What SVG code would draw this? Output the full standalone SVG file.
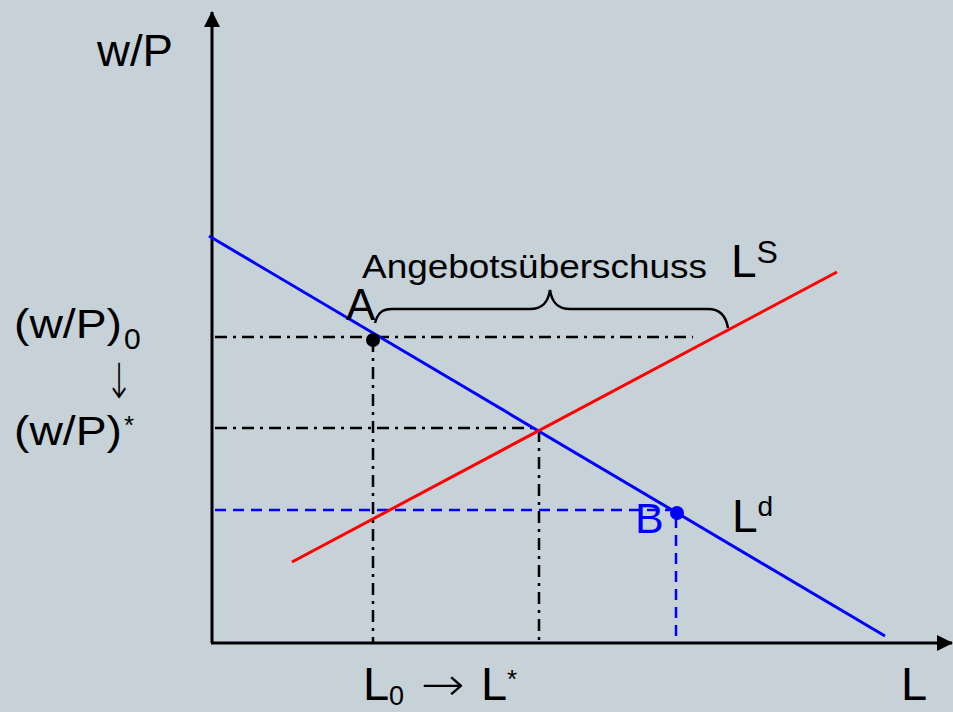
<svg xmlns="http://www.w3.org/2000/svg" width="953" height="712" viewBox="0 0 953 712">
<defs>
<style>
text{font-family:"Liberation Sans","Arial","DejaVu Sans",sans-serif;fill:#000}
.arr{font-family:"DejaVu Sans",sans-serif;font-weight:200}
.ax{stroke:#000;stroke-width:3;fill:none}
.dd{stroke:#000;stroke-width:2.5;fill:none;stroke-dasharray:12 6 3 6}
.bd{stroke:#0000ff;stroke-width:2.5;fill:none;stroke-dasharray:11 7}
.blue{fill:#0000ff}
</style>
<marker id="ah" markerWidth="16" markerHeight="16" viewBox="0 0 16 16" refX="15" refY="8" orient="auto" markerUnits="userSpaceOnUse">
<path d="M0,0 L16,8 L0,16 z" fill="#000"/>
</marker>
</defs>
<rect width="953" height="712" fill="#C6D1D8"/>
<g id="axes">
<line class="ax" x1="212" y1="643" x2="212" y2="12" marker-end="url(#ah)"/>
<line class="ax" x1="211" y1="643" x2="952" y2="643" marker-end="url(#ah)"/>
</g>
<g id="connectors">
<line class="dd" x1="215" y1="337" x2="693" y2="337"/>
<line class="dd" x1="373" y1="340" x2="373" y2="643"/>
<line class="dd" x1="215" y1="428" x2="539" y2="428"/>
<line class="dd" x1="539" y1="430" x2="539" y2="643"/>
<line class="bd" x1="215" y1="510" x2="670" y2="510"/>
<line class="bd" x1="676" y1="517" x2="676" y2="643"/>
<path d="M375,323 C378,312 383,309 392,309 L530,309 C542,309 548,303 550,290 C552,303 558,309 570,309 L708,309 C720,309 726,316 728,328" fill="none" stroke="#000" stroke-width="2.5"/>
</g>
<g id="Ld">
<line x1="209" y1="236" x2="885" y2="636" stroke="#0000ff" stroke-width="3"/>
<text x="732" y="532" font-size="46">L<tspan font-size="28" dy="-16">d</tspan></text>
</g>
<g id="Ls">
<line x1="292" y1="562" x2="837" y2="272" stroke="#ff0000" stroke-width="3"/>
<text x="731" y="277" font-size="46">L<tspan font-size="32" dy="-14">S</tspan></text>
</g>
<g id="A">
<circle cx="373" cy="340" r="7" fill="#000"/>
<text x="346" y="320" font-size="44">A</text>
</g>
<g id="B">
<circle cx="677" cy="513" r="7" fill="#0000ff"/>
<text class="blue" x="635" y="533" font-size="43">B</text>
</g>
<g id="labels">
<text x="97" y="66" font-size="44" textLength="76" lengthAdjust="spacingAndGlyphs">w/P</text>
<text x="362" y="278" font-size="33" textLength="345" lengthAdjust="spacingAndGlyphs">Angebotsüberschuss</text>
<text x="14" y="338" font-size="40" textLength="108" lengthAdjust="spacingAndGlyphs">(w/P)</text>
<text x="124" y="349" font-size="30">0</text>
<text class="arr" x="119" y="398" font-size="42" text-anchor="middle" transform="translate(119 398) scale(0.8 1.15) translate(-119 -398)">↓</text>
<text x="14" y="445" font-size="40" textLength="108" lengthAdjust="spacingAndGlyphs">(w/P)</text>
<text x="124" y="434" font-size="26">*</text>
<text x="363" y="700" font-size="47">L</text>
<text x="389" y="705" font-size="27">0</text>
<text class="arr" x="421" y="700" font-size="46" textLength="44" lengthAdjust="spacingAndGlyphs">→</text>
<text x="481" y="700" font-size="47">L</text>
<text x="507" y="688" font-size="26">*</text>
<text x="901" y="700" font-size="47">L</text>
</g>
</svg>
